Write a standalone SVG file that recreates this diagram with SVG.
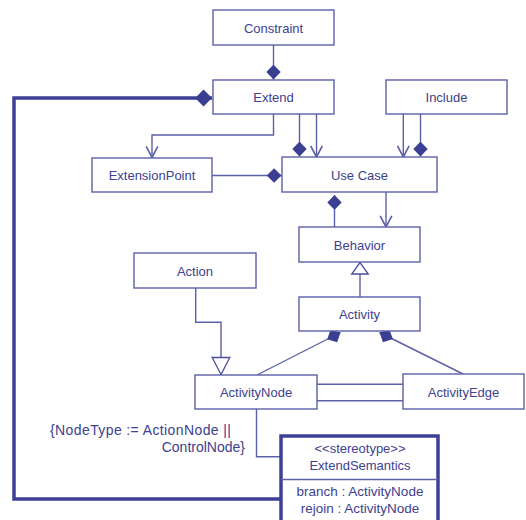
<svg xmlns="http://www.w3.org/2000/svg" width="526" height="520" viewBox="0 0 526 520">
<defs>
<style>
.box{fill:#ffffff;stroke:#5c60a8;stroke-width:1.4}
.thick{fill:#ffffff;stroke:#3c4096;stroke-width:3.5}
.lbl{font-family:"Liberation Sans",Arial,sans-serif;font-size:13px;fill:#3d4190;text-anchor:middle}
.note{font-family:"Liberation Sans",Arial,sans-serif;font-size:14px;fill:#3d4190}
.ln{fill:none;stroke:#5c60a8;stroke-width:1.4}
.tl{fill:none;stroke:#3c4096;stroke-width:3.5}
.tri{fill:#ffffff;stroke:#4a4e9c;stroke-width:1.3}
</style>
<marker id="dia" markerUnits="userSpaceOnUse" markerWidth="16" markerHeight="16" viewBox="0 -7 14 14" refX="13" refY="0" orient="auto">
<path d="M0,0 L6.5,-6.3 L13,0 L6.5,6.3 Z" fill="#3a3f91"/>
</marker>
<marker id="diaL" markerUnits="userSpaceOnUse" markerWidth="18" markerHeight="18" viewBox="0 -8 16 16" refX="15" refY="0" orient="auto">
<path d="M0,0 L7.5,-7.5 L15,0 L7.5,7.5 Z" fill="#3a3f91"/>
</marker>
<marker id="arr" markerUnits="userSpaceOnUse" markerWidth="14" markerHeight="14" viewBox="-11 -6 12 12" refX="0" refY="0" orient="auto">
<path d="M-9.5,-5 L0,0 L-9.5,5" fill="none" stroke="#5c60a8" stroke-width="1.4"/>
</marker>
</defs>

<g id="connectors">
<path class="ln" d="M273.5,45 V79.5" marker-end="url(#dia)"/>
<path class="tl" d="M281,499 H14 V98 H212" marker-end="url(#diaL)"/>
<path class="ln" d="M273.5,114 V135 H152 V157.5" marker-end="url(#arr)"/>
<path class="ln" d="M299.5,114 V156.5" marker-end="url(#dia)"/>
<path class="ln" d="M316.5,114 V157" marker-end="url(#arr)"/>
<path class="ln" d="M403.3,114 V157" marker-end="url(#arr)"/>
<path class="ln" d="M420.5,114 V156.5" marker-end="url(#dia)"/>
<path class="ln" d="M212,175.5 H281.5" marker-end="url(#dia)"/>
<path class="ln" d="M334.5,227 V195" marker-end="url(#dia)"/>
<path class="ln" d="M386,192 V227" marker-end="url(#arr)"/>
<path class="ln" d="M360,297 V274"/>
<polygon class="tri" points="360,262.5 351.7,274 368.3,274"/>
<path class="ln" d="M195.7,288 V322.3 H221 V357.5"/>
<polygon class="tri" points="221,374.5 212.2,357.5 229.8,357.5"/>
<path class="ln" d="M257,375 L340.5,332.5" marker-end="url(#dia)"/>
<path class="ln" d="M463,374 L379.5,332.5" marker-end="url(#dia)"/>
<path class="ln" d="M317,384.2 H403"/>
<path class="ln" d="M317,400.7 H403"/>
<path class="ln" d="M256.5,409 V456.7 H281"/>
</g>

<g id="constraint">
<rect class="box" x="213" y="10" width="121" height="35"/>
<text class="lbl" x="273.5" y="32.5">Constraint</text>
</g>
<g id="extend">
<rect class="box" x="213" y="80" width="121" height="34"/>
<text class="lbl" x="273.5" y="102">Extend</text>
</g>
<g id="include">
<rect class="box" x="386" y="80" width="121" height="34"/>
<text class="lbl" x="446.5" y="102">Include</text>
</g>
<g id="extensionpoint">
<rect class="box" x="92" y="158" width="120" height="34"/>
<text class="lbl" x="152" y="180">ExtensionPoint</text>
</g>
<g id="usecase">
<rect class="box" x="282" y="157" width="155" height="35"/>
<text class="lbl" x="359.5" y="179.5">Use Case</text>
</g>
<g id="behavior">
<rect class="box" x="299" y="227" width="121" height="35"/>
<text class="lbl" x="359.5" y="249.5">Behavior</text>
</g>
<g id="action">
<rect class="box" x="134" y="253" width="122" height="35"/>
<text class="lbl" x="195" y="275.5">Action</text>
</g>
<g id="activity">
<rect class="box" x="299" y="297" width="121" height="34"/>
<text class="lbl" x="359.5" y="319">Activity</text>
</g>
<g id="activitynode">
<rect class="box" x="195" y="375" width="122" height="34"/>
<text class="lbl" x="256" y="397">ActivityNode</text>
</g>
<g id="activityedge">
<rect class="box" x="403" y="374" width="121" height="35"/>
<text class="lbl" x="463.5" y="396.5">ActivityEdge</text>
</g>
<g id="constraint-note">
<text class="note" x="50" y="435" textLength="181" lengthAdjust="spacing">{NodeType := ActionNode ||</text>
<text class="note" x="245" y="452" text-anchor="end">ControlNode}</text>
</g>
<g id="extendsemantics">
<rect class="thick" x="281" y="436" width="157" height="92"/>
<line x1="281" y1="479.5" x2="438" y2="479.5" stroke="#5c60a8" stroke-width="1.4"/>
<text class="lbl" x="360" y="453">&lt;&lt;stereotype&gt;&gt;</text>
<text class="lbl" x="360" y="470">ExtendSemantics</text>
<text class="lbl" x="360" y="496" style="font-size:13.5px">branch : ActivityNode</text>
<text class="lbl" x="360" y="513" style="font-size:13.5px">rejoin : ActivityNode</text>
</g>
</svg>
